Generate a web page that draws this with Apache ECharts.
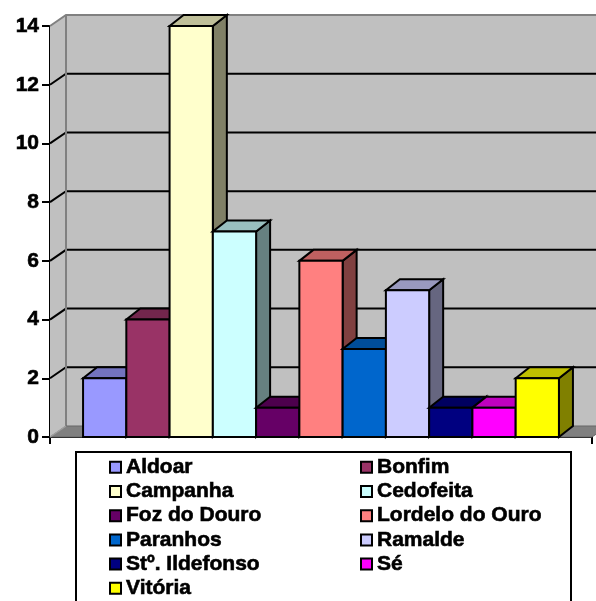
<!DOCTYPE html>
<html>
<head>
<meta charset="utf-8">
<script src="https://cdn.jsdelivr.net/npm/echarts@6/dist/echarts.min.js"></script>
<style>
  html, body { margin: 0; padding: 0; background: #fff; }
  #chart { width: 596px; height: 601px; }
</style>
</head>
<body>
<div id="chart"></div>
<script>
// Parishes and their counts, one column each
const parishes = ['Aldoar', 'Bonfim', 'Campanha', 'Cedofeita', 'Foz do Douro',
  'Lordelo do Ouro', 'Paranhos', 'Ramalde', 'Stº. Ildefonso', 'Sé', 'Vitória'];
const counts = [2, 4, 14, 7, 1, 6, 3, 5, 1, 1, 2];
const groupLabel = ['Porto'];
const valueTicks = [0, 2, 4, 6, 8, 10, 12, 14];

const palette = ['#9999FF', '#993366', '#FFFFCC', '#CCFFFF', '#660066',
  '#FF8080', '#0066CC', '#CCCCFF', '#000080', '#FF00FF', '#FFFF00'];

// oblique depth of the walls and of the columns (pixels)
const WALL_DX = 16, WALL_DY = -11;
const BAR_DX = 14, BAR_DY = -11;
const GROUP_RATIO = 0.878;
const FONT = '"Liberation Sans", Arial, sans-serif';

function shade(hex, f) {
  const n = parseInt(hex.slice(1), 16);
  const r = Math.round(((n >> 16) & 255) * f);
  const g = Math.round(((n >> 8) & 255) * f);
  const b = Math.round((n & 255) * f);
  return 'rgb(' + r + ',' + g + ',' + b + ')';
}

// back wall, side wall, floor and gridlines
function renderWalls(params, api) {
  const p0 = api.coord([0, valueTicks[0]]);
  const pTop = api.coord([0, valueTicks[valueTicks.length - 1]]);
  const band = api.size([1, 0])[0];
  const xl = p0[0] - band / 2, xr = p0[0] + band / 2;
  const yb = p0[1], yt = pTop[1];
  const children = [];
  // back wall
  children.push({ type: 'polygon', shape: { points: [
    [xl + WALL_DX, yt + WALL_DY], [xr + WALL_DX, yt + WALL_DY],
    [xr + WALL_DX, yb + WALL_DY], [xl + WALL_DX, yb + WALL_DY]] },
    style: { fill: '#C0C0C0', stroke: null } });
  // side wall
  children.push({ type: 'polygon', shape: { points: [
    [xl, yb], [xl, yt], [xl + WALL_DX, yt + WALL_DY], [xl + WALL_DX, yb + WALL_DY]] },
    style: { fill: '#C0C0C0', stroke: null } });
  // gridlines on both walls
  valueTicks.forEach(function (v, i) {
    if (i === 0 || i === valueTicks.length - 1) return;
    const y = api.coord([0, v])[1];
    children.push({ type: 'polyline', shape: { points: [
      [xl, y], [xl + WALL_DX, y + WALL_DY], [xr + WALL_DX, y + WALL_DY]] },
      style: { stroke: '#000', lineWidth: 2, fill: null } });
  });
  // wall edges
  children.push({ type: 'polyline', shape: { points: [
    [xl, yt], [xl + WALL_DX, yt + WALL_DY], [xr + WALL_DX, yt + WALL_DY]] },
    style: { stroke: '#808080', lineWidth: 2, fill: null } });
  children.push({ type: 'line', shape: {
    x1: xl + WALL_DX, y1: yt + WALL_DY, x2: xl + WALL_DX, y2: yb + WALL_DY },
    style: { stroke: '#808080', lineWidth: 2 } });
  // floor
  children.push({ type: 'polygon', shape: { points: [
    [xl, yb], [xr, yb], [xr + WALL_DX, yb + WALL_DY], [xl + WALL_DX, yb + WALL_DY]] },
    style: { fill: '#808080', stroke: '#666', lineWidth: 1 } });
  children.push({ type: 'line', shape: {
    x1: xl, y1: yb, x2: xl + WALL_DX, y2: yb + WALL_DY },
    style: { stroke: '#A0A0A0', lineWidth: 1.5 } });
  return { type: 'group', children: children };
}

// one prism-shaped column per parish
function makeBarRenderer(idx) {
  return function (params, api) {
    const base = api.coord([0, 0]);
    const top = api.coord([0, api.value(1)]);
    const band = api.size([1, 0])[0];
    const w = band * GROUP_RATIO / parishes.length;
    const x0 = base[0] - band * GROUP_RATIO / 2 + idx * w;
    const x1 = x0 + w;
    const yb = base[1], yt = top[1];
    const c = palette[idx];
    const edge = { stroke: '#000', lineWidth: 2, lineJoin: 'miter' };
    return { type: 'group', children: [
      { type: 'polygon', shape: { points: [[x1, yb], [x1, yt], [x1 + BAR_DX, yt + BAR_DY], [x1 + BAR_DX, yb + BAR_DY]] },
        style: Object.assign({ fill: shade(c, 0.5) }, edge) },
      { type: 'polygon', shape: { points: [[x0, yt], [x1, yt], [x1 + BAR_DX, yt + BAR_DY], [x0 + BAR_DX, yt + BAR_DY]] },
        style: Object.assign({ fill: shade(c, 0.75) }, edge) },
      { type: 'polygon', shape: { points: [[x0, yb], [x0, yt], [x1, yt], [x1, yb]] },
        style: Object.assign({ fill: c }, edge) }
    ] };
  };
}

const series = [{
  type: 'custom',
  name: '_walls',
  renderItem: renderWalls,
  data: [[0, 0]],
  z: 1,
  silent: true
}];
parishes.forEach(function (name, i) {
  series.push({
    type: 'custom',
    name: name,
    renderItem: makeBarRenderer(i),
    itemStyle: { color: palette[i] },
    data: [[0, counts[i]]],
    z: 2
  });
});

// heavy bold text, slightly stroked
const legendText = { fontFamily: FONT, fontWeight: 'bold', fontSize: 21, color: '#000', lineHeight: 21,
  textBorderColor: '#000', textBorderWidth: 0.6 };
const legendBase = {
  type: 'plain', orient: 'vertical', icon: 'rect', itemWidth: 11, itemHeight: 11, itemGap: 2.6,
  padding: 0, selectedMode: false, z: 10, height: 200,
  itemStyle: { borderColor: '#000', borderWidth: 2 },
  textStyle: legendText
};

const option = {
  backgroundColor: '#fff',
  animation: false,
  grid: { left: 50, right: 4, top: 26, bottom: 164 },
  xAxis: {
    type: 'category', data: groupLabel, boundaryGap: true,
    axisLine: { lineStyle: { color: '#000', width: 2 } },
    axisTick: { show: true, length: 7, lineStyle: { color: '#000', width: 2 } },
    axisLabel: { show: false },
    splitLine: { show: false }
  },
  yAxis: {
    type: 'value', min: 0, max: 14, interval: 2,
    axisLine: { show: true, lineStyle: { color: '#000', width: 2 } },
    axisTick: { show: true, length: 8, lineStyle: { color: '#000', width: 2 } },
    axisLabel: { margin: 11, fontFamily: FONT, fontWeight: 'bold', fontSize: 21, color: '#000',
      textBorderColor: '#000', textBorderWidth: 0.6 },
    splitLine: { show: false }
  },
  graphic: [{
    type: 'rect', z: 5,
    shape: { x: 76, y: 452, width: 495, height: 170 },
    style: { fill: '#fff', stroke: '#000', lineWidth: 2 }
  }],
  legend: [
    Object.assign({}, legendBase, { left: 109, top: 456.5,
      data: [parishes[0], parishes[2], parishes[4], parishes[6], parishes[8], parishes[10]] }),
    Object.assign({}, legendBase, { left: 360, top: 456.5,
      data: [parishes[1], parishes[3], parishes[5], parishes[7], parishes[9]] })
  ],
  series: series
};

const chart = echarts.init(document.getElementById('chart'), null, { renderer: 'canvas' });
chart.setOption(option);
</script>
</body>
</html>
